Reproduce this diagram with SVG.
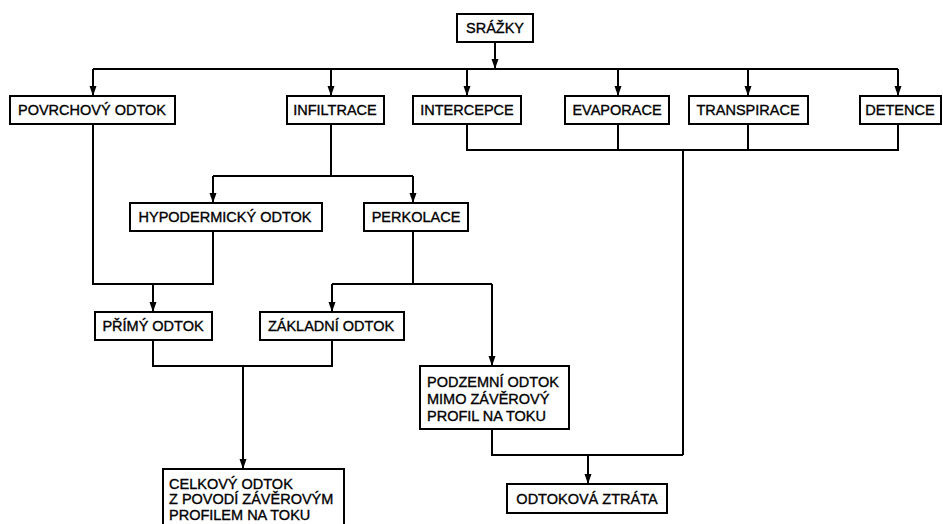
<svg xmlns="http://www.w3.org/2000/svg" width="943" height="524" viewBox="0 0 943 524">
<style>
.box{fill:#fff;stroke:#000;stroke-width:2}
.t{font-family:"Liberation Sans",Arial,sans-serif;font-size:14.5px;fill:#000;stroke:#000;stroke-width:0.35}
.c{text-anchor:middle}
.ln{fill:none;stroke:#000;stroke-width:2}
</style>
<defs>
<marker id="ah" markerUnits="userSpaceOnUse" markerWidth="10" markerHeight="8" viewBox="0 -4 10 8" refX="10" refY="0" orient="auto">
<path d="M0,-3.5 L10,0 L0,3.5 z" fill="#000"/>
</marker>
</defs>
<rect width="943" height="524" fill="#fff"/>
<g id="connectors">
<path class="ln" d="M495,42 V69" marker-end="url(#ah)"/>
<path class="ln" d="M93,69 H898"/>
<path class="ln" d="M93,69 V96" marker-end="url(#ah)"/>
<path class="ln" d="M331,69 V96" marker-end="url(#ah)"/>
<path class="ln" d="M467,69 V96" marker-end="url(#ah)"/>
<path class="ln" d="M618,69 V96" marker-end="url(#ah)"/>
<path class="ln" d="M748,69 V96" marker-end="url(#ah)"/>
<path class="ln" d="M898,69 V96" marker-end="url(#ah)"/>
<path class="ln" d="M467,124 V150 H898 V124 M618,124 V150 M748,124 V150 M683,150 V455"/>
<path class="ln" d="M331,124 V176 M213,176 H413"/>
<path class="ln" d="M213,176 V203" marker-end="url(#ah)"/>
<path class="ln" d="M413,176 V203" marker-end="url(#ah)"/>
<path class="ln" d="M93,124 V284 H213 V231"/>
<path class="ln" d="M153,284 V312" marker-end="url(#ah)"/>
<path class="ln" d="M413,231 V284 M332,284 H492"/>
<path class="ln" d="M332,284 V312" marker-end="url(#ah)"/>
<path class="ln" d="M492,284 V366" marker-end="url(#ah)"/>
<path class="ln" d="M153,340 V366 H332 V340"/>
<path class="ln" d="M243,366 V469" marker-end="url(#ah)"/>
<path class="ln" d="M492,429 V455 H683"/>
<path class="ln" d="M588,455 V484" marker-end="url(#ah)"/>
</g>
<g id="srazky"><rect class="box" x="457" y="14" width="76" height="28"/><text class="t c" x="495" y="33.2">SRÁŽKY</text></g>
<g id="povrchovy"><rect class="box" x="10" y="96" width="165" height="28"/><text class="t c" x="92" y="115.2">POVRCHOVÝ ODTOK</text></g>
<g id="infiltrace"><rect class="box" x="287" y="96" width="97" height="28"/><text class="t c" x="335" y="115.2">INFILTRACE</text></g>
<g id="intercepce"><rect class="box" x="413" y="96" width="108" height="28"/><text class="t c" x="467" y="115.2">INTERCEPCE</text></g>
<g id="evaporace"><rect class="box" x="565" y="96" width="104" height="28"/><text class="t c" x="617" y="115.2">EVAPORACE</text></g>
<g id="transpirace"><rect class="box" x="689" y="96" width="119" height="28"/><text class="t c" x="748" y="115.2">TRANSPIRACE</text></g>
<g id="detence"><rect class="box" x="860" y="96" width="81" height="28"/><text class="t c" x="900" y="115.2">DETENCE</text></g>
<g id="hypodermicky"><rect class="box" x="130" y="203" width="192" height="28"/><text class="t c" x="225" y="222.2">HYPODERMICKÝ ODTOK</text></g>
<g id="perkolace"><rect class="box" x="364" y="203" width="104" height="28"/><text class="t c" x="416" y="222.2">PERKOLACE</text></g>
<g id="primy"><rect class="box" x="95" y="312" width="117" height="28"/><text class="t c" x="153" y="331.2">PŘÍMÝ ODTOK</text></g>
<g id="zakladni"><rect class="box" x="260" y="312" width="144" height="28"/><text class="t c" x="331" y="331.2">ZÁKLADNÍ ODTOK</text></g>
<g id="podzemni"><rect class="box" x="420" y="366" width="149" height="63"/><text class="t" x="427" y="386.5">PODZEMNÍ ODTOK</text><text class="t" x="427" y="403.5">MIMO ZÁVĚROVÝ</text><text class="t" x="427" y="420.5">PROFIL NA TOKU</text></g>
<g id="celkovy"><rect class="box" x="163" y="469" width="181" height="62"/><text class="t" x="169" y="488.5">CELKOVÝ ODTOK</text><text class="t" x="169" y="504">Z POVODÍ ZÁVĚROVÝM</text><text class="t" x="169" y="519.5">PROFILEM NA TOKU</text></g>
<g id="ztrata"><rect class="box" x="507" y="484" width="160" height="29"/><text class="t c" x="587" y="503.5">ODTOKOVÁ ZTRÁTA</text></g>
</svg>
